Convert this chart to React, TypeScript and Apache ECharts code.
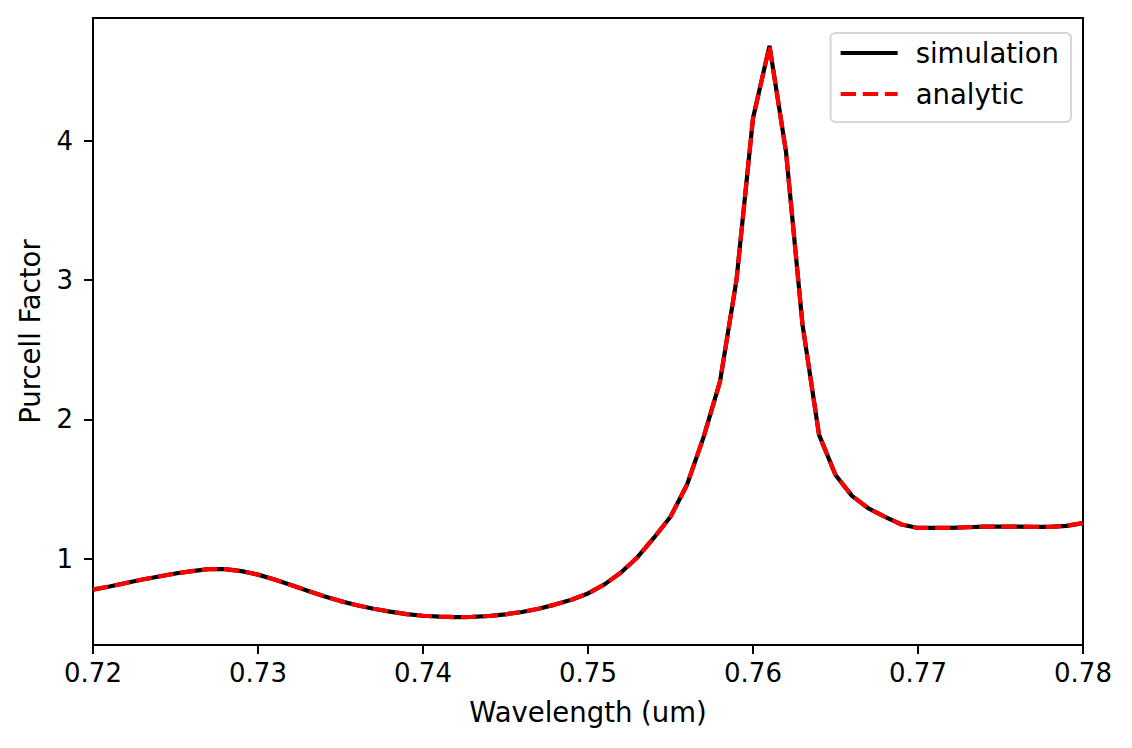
import React, { useEffect, useRef } from "react";
import * as echarts from "echarts";

const wavelengths = [
  0.72, 0.721, 0.722, 0.723, 0.724, 0.725, 0.726, 0.727, 0.728, 0.729,
  0.73, 0.731, 0.732, 0.733, 0.734, 0.735, 0.736, 0.737, 0.738, 0.739,
  0.74, 0.741, 0.742, 0.743, 0.744, 0.745, 0.746, 0.747, 0.748, 0.749,
  0.75, 0.751, 0.752, 0.753, 0.754, 0.755, 0.756, 0.757, 0.758, 0.759,
  0.76, 0.761, 0.762, 0.763, 0.764, 0.765, 0.766, 0.767, 0.768, 0.769,
  0.77, 0.771, 0.772, 0.773, 0.774, 0.775, 0.776, 0.777, 0.778, 0.779,
  0.78,
];

const simulation = [
  0.777, 0.8, 0.825, 0.85, 0.872, 0.893, 0.91, 0.924, 0.925, 0.91,
  0.885, 0.85, 0.81, 0.77, 0.73, 0.695, 0.665, 0.64, 0.62, 0.602,
  0.59, 0.583, 0.58, 0.582, 0.588, 0.6, 0.617, 0.64, 0.67, 0.705,
  0.75, 0.815, 0.9, 1.01, 1.15, 1.3, 1.53, 1.87, 2.27, 3.0,
  4.16, 4.68, 3.92, 2.68, 1.89, 1.6, 1.45, 1.36, 1.3, 1.245,
  1.22, 1.22, 1.22, 1.225, 1.23, 1.23, 1.23, 1.228, 1.228, 1.235,
  1.255,
];

const analytic = [
  0.777, 0.8, 0.825, 0.85, 0.872, 0.893, 0.91, 0.924, 0.925, 0.91,
  0.885, 0.85, 0.81, 0.77, 0.73, 0.695, 0.665, 0.64, 0.62, 0.602,
  0.59, 0.583, 0.58, 0.582, 0.588, 0.6, 0.617, 0.64, 0.67, 0.705,
  0.75, 0.815, 0.9, 1.01, 1.15, 1.3, 1.53, 1.87, 2.27, 3.0,
  4.16, 4.68, 3.92, 2.68, 1.89, 1.6, 1.45, 1.36, 1.3, 1.245,
  1.22, 1.22, 1.22, 1.225, 1.23, 1.23, 1.23, 1.228, 1.228, 1.235,
  1.255,
];

const xTicks = [0.72, 0.73, 0.74, 0.75, 0.76, 0.77, 0.78];
const yTicks = [1, 2, 3, 4];

const FONT = "DejaVu Sans";
const TICK_FS = 26;
const LABEL_FS = 27.5;

export default function App() {
  const ref = useRef<HTMLDivElement>(null);

  useEffect(() => {
    document.body.style.margin = "0";
    if (!ref.current) return;
    const chart = echarts.init(ref.current, null, { renderer: "svg" });
    const simData = wavelengths.map((x, i) => [x, simulation[i]]);
    const anaData = wavelengths.map((x, i) => [x, analytic[i]]);
    chart.setOption({
      animation: false,
      backgroundColor: "#ffffff",
      textStyle: { fontFamily: FONT },
      grid: {
        left: 93,
        right: 49,
        top: 18,
        bottom: 103,
        show: true,
        borderColor: "#000000",
        borderWidth: 2,
        backgroundColor: "transparent",
      },
      legend: {
        orient: "vertical",
        right: 61,
        top: 33,
        padding: [6, 12, 14, 8],
        itemWidth: 57,
        itemHeight: 25,
        itemGap: 13,
        borderColor: "#d6d6d6",
        borderWidth: 2,
        borderRadius: 5,
        backgroundColor: "rgba(255,255,255,0.8)",
        itemStyle: { opacity: 0 },
        lineStyle: { width: 4.2 },
        textStyle: {
          fontFamily: FONT,
          fontSize: LABEL_FS,
          color: "#000000",
          padding: [0, 0, 0, 13],
        },
        data: ["simulation", "analytic"],
      },
      xAxis: {
        type: "value",
        min: 0.72,
        max: 0.78,
        name: "Wavelength (um)",
        nameLocation: "middle",
        nameGap: 53,
        nameTextStyle: { fontFamily: FONT, fontSize: LABEL_FS, color: "#000000" },
        axisLine: { show: true, lineStyle: { color: "#000000", width: 2 } },
        axisTick: {
          show: true,
          inside: false,
          length: 9,
          customValues: xTicks,
          lineStyle: { color: "#000000", width: 2 },
        },
        axisLabel: {
          show: true,
          customValues: xTicks,
          margin: 15,
          fontFamily: FONT,
          fontSize: TICK_FS,
          color: "#000000",
          formatter: (v: number) => v.toFixed(2),
        },
        splitLine: { show: false },
      },
      yAxis: {
        type: "value",
        min: 0.38,
        max: 4.88,
        name: "Purcell Factor",
        nameLocation: "middle",
        nameGap: 49,
        nameTextStyle: { fontFamily: FONT, fontSize: LABEL_FS, color: "#000000" },
        axisLine: { show: true, lineStyle: { color: "#000000", width: 2 } },
        axisTick: {
          show: true,
          inside: false,
          length: 9,
          customValues: yTicks,
          lineStyle: { color: "#000000", width: 2 },
        },
        axisLabel: {
          show: true,
          customValues: yTicks,
          margin: 20,
          fontFamily: FONT,
          fontSize: TICK_FS,
          color: "#000000",
          formatter: (v: number) => String(v),
        },
        splitLine: { show: false },
      },
      series: [
        {
          name: "simulation",
          type: "line",
          data: simData,
          symbol: "none",
          showSymbol: false,
          smooth: false,
          lineStyle: { color: "#000000", width: 4.2, type: "solid" },
          itemStyle: { color: "#000000" },
          z: 2,
        },
        {
          name: "analytic",
          type: "line",
          data: anaData,
          symbol: "none",
          showSymbol: false,
          smooth: false,
          lineStyle: { color: "#ff0000", width: 4.2, type: [15.4, 6.7] },
          itemStyle: { color: "#ff0000" },
          z: 3,
        },
      ],
    });
    return () => chart.dispose();
  }, []);

  return <div ref={ref} style={{ width: 1132, height: 748 }} />;
}
